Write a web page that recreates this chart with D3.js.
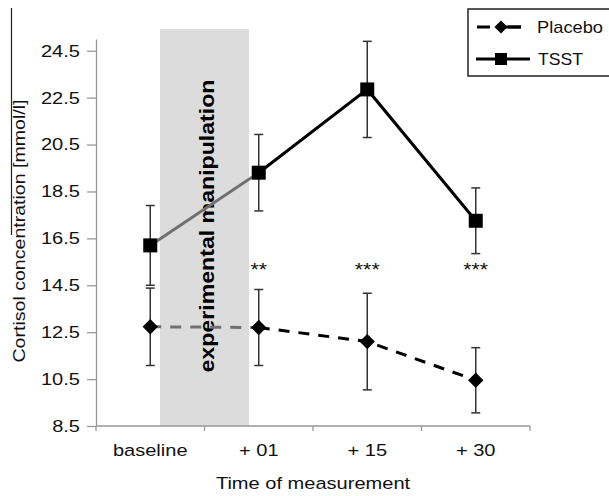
<!DOCTYPE html>
<html>
<head>
<meta charset="utf-8">
<script src="https://cdn.jsdelivr.net/npm/d3@7"></script>
<style>
  body { margin: 0; background: #fff; }
  svg { display: block; font-family: "Liberation Sans", Arial, sans-serif; }
</style>
</head>
<body>
<div class="chart"></div>
<script>
// values
const categories = ['baseline', '+ 01', '+ 15', '+ 30'];
const tsst = [16.2, 19.3, 22.85, 17.25];
const tsstErr = [1.7, 1.63, 2.05, 1.4];
const placebo = [12.73, 12.7, 12.1, 10.45];
const placeboErr = [1.65, 1.62, 2.06, 1.39];
const stars = ['', '**', '***', '***'];
const yTicks = [8.5, 10.5, 12.5, 14.5, 16.5, 18.5, 20.5, 22.5, 24.5];

const outerWidth = 609;
const outerHeight = 496;
const margin = {top: 39, bottom: 70, left: 96, right: 79};
const stretch = 1.18; // the original figure is a bit wide-stretched

const svg = d3.select('.chart')
  .append('svg')
  .attr('width', outerWidth)
  .attr('height', outerHeight);

const xScale = d3.scaleBand()
  .domain(categories)
  .range([margin.left, outerWidth - margin.right])
  .padding(0);

const xc = d => xScale(d) + xScale.bandwidth() / 2;

const yScale = d3.scaleLinear()
  .domain([8.5, 25])
  .range([outerHeight - margin.bottom, margin.top]);

// grey band for the manipulation, between baseline and +01
const bandPad = xScale.bandwidth() * 0.09;
svg.append('rect')
  .attr('x', xc(categories[0]) + bandPad)
  .attr('y', margin.top - 10)
  .attr('width', xc(categories[1]) - xc(categories[0]) - 2 * bandPad)
  .attr('height', yScale(8.5) - margin.top + 10)
  .attr('fill', '#dcdcdc');

// y axis
const yAxis = d3.axisLeft(yScale)
  .tickValues(yTicks)
  .tickFormat(d3.format('.1f'))
  .tickSize(9)
  .tickSizeOuter(0);

const gy = svg.append('g')
  .attr('transform', `translate(${margin.left},0)`)
  .call(yAxis);
gy.select('.domain').attr('stroke', '#999').attr('stroke-width', 1.3);
gy.selectAll('.tick line').attr('stroke', '#999').attr('stroke-width', 1.3);
gy.selectAll('.tick text')
  .attr('font-size', 17)
  .attr('fill', '#111')
  .attr('x', -16 / stretch)
  .attr('transform', `scale(${stretch},1)`);

// x axis with ticks at category borders
const gx = svg.append('g')
  .attr('transform', `translate(0,${yScale(8.5)})`);
gx.append('line')
  .attr('x1', xScale.range()[0])
  .attr('x2', xScale.range()[1])
  .attr('stroke', '#999')
  .attr('stroke-width', 1.3);
const borders = categories.map(c => xScale(c)).concat([xScale.range()[1]]);
gx.selectAll('.xtick')
  .data(borders)
  .enter()
  .append('line')
  .attr('x1', d => d)
  .attr('x2', d => d)
  .attr('y1', 0)
  .attr('y2', 5)
  .attr('stroke', '#999')
  .attr('stroke-width', 1.3);
gx.selectAll('.xlabel')
  .data(categories)
  .enter()
  .append('text')
  .attr('x', d => xc(d) / stretch)
  .attr('y', 30)
  .attr('transform', `scale(${stretch},1)`)
  .attr('text-anchor', 'middle')
  .attr('font-size', 17)
  .attr('fill', '#111')
  .text(d => d);

// axis titles
svg.append('text')
  .attr('x', (xScale.range()[0] + xScale.range()[1]) / 2 / stretch)
  .attr('y', 489)
  .attr('transform', `scale(${stretch},1)`)
  .attr('text-anchor', 'middle')
  .attr('font-size', 17)
  .attr('fill', '#111')
  .text('Time of measurement');

svg.append('text')
  .attr('transform', 'translate(25,231) rotate(-90)')
  .attr('text-anchor', 'middle')
  .attr('font-size', 16)
  .attr('textLength', 263)
  .attr('lengthAdjust', 'spacingAndGlyphs')
  .attr('fill', '#111')
  .text('Cortisol concentration [mmol/l]');

svg.append('line')
  .attr('x1', 11.5).attr('x2', 11.5)
  .attr('y1', 8).attr('y2', 235)
  .attr('stroke', '#222')
  .attr('stroke-width', 1.2);

// label inside the band
svg.append('text')
  .attr('transform', `translate(${(xc(categories[0]) + xc(categories[1])) / 2 + 9.5},226) rotate(-90)`)
  .attr('text-anchor', 'middle')
  .attr('font-size', 21)
  .attr('font-weight', 'bold')
  .attr('textLength', 293)
  .attr('lengthAdjust', 'spacingAndGlyphs')
  .attr('fill', '#000')
  .text('experimental manipulation');

// error bars
function errorBars(vals, errs) {
  const g = svg.append('g').attr('stroke', '#333').attr('stroke-width', 1.5);
  vals.forEach((v, i) => {
    const x = xc(categories[i]);
    g.append('line')
      .attr('x1', x).attr('x2', x)
      .attr('y1', yScale(v + errs[i])).attr('y2', yScale(v - errs[i]));
    [v + errs[i], v - errs[i]].forEach(e => {
      g.append('line')
        .attr('x1', x - 4.5).attr('x2', x + 4.5)
        .attr('y1', yScale(e)).attr('y2', yScale(e));
    });
  });
}
errorBars(placebo, placeboErr);
errorBars(tsst, tsstErr);

// lines: first segment (during manipulation) is grey
function drawLine(vals, dash) {
  const pts = vals.map((v, i) => [xc(categories[i]), yScale(v)]);
  const line = d3.line();
  svg.append('path')
    .datum(pts.slice(0, 2))
    .attr('fill', 'none')
    .attr('stroke', '#707070')
    .attr('stroke-width', 3)
    .attr('stroke-dasharray', dash)
    .attr('d', line);
  svg.append('path')
    .datum(pts.slice(1))
    .attr('fill', 'none')
    .attr('stroke', '#000')
    .attr('stroke-width', 3)
    .attr('stroke-dasharray', dash)
    .attr('d', line);
}
drawLine(placebo, '11,9');
drawLine(tsst, null);

const diamond = d3.symbol().type(d3.symbolDiamond2).size(150);
svg.selectAll('.pmark')
  .data(placebo)
  .enter()
  .append('path')
  .attr('d', diamond)
  .attr('transform', (d, i) => `translate(${xc(categories[i])},${yScale(d)})`)
  .attr('fill', '#000');

svg.selectAll('.tmark')
  .data(tsst)
  .enter()
  .append('rect')
  .attr('x', (d, i) => xc(categories[i]) - 7)
  .attr('y', d => yScale(d) - 7)
  .attr('width', 14)
  .attr('height', 14)
  .attr('fill', '#000');

// significance stars
svg.selectAll('.stars')
  .data(stars)
  .enter()
  .append('text')
  .attr('x', (d, i) => xc(categories[i]) / stretch)
  .attr('y', 276)
  .attr('transform', `scale(${stretch},1)`)
  .attr('text-anchor', 'middle')
  .attr('font-size', 18)
  .attr('fill', '#111')
  .text(d => d);

// legend
const leg = svg.append('g');
leg.append('rect')
  .attr('x', 468).attr('y', 9)
  .attr('width', 150).attr('height', 67)
  .attr('fill', '#fff')
  .attr('stroke', '#222')
  .attr('stroke-width', 1.5);
leg.append('line')
  .attr('x1', 477).attr('x2', 521)
  .attr('y1', 27).attr('y2', 27)
  .attr('stroke', '#000').attr('stroke-width', 3)
  .attr('stroke-dasharray', '13,18');
leg.append('path')
  .attr('d', d3.symbol().type(d3.symbolDiamond2).size(110))
  .attr('transform', 'translate(501,27)')
  .attr('fill', '#000');
leg.append('line')
  .attr('x1', 501).attr('x2', 521)
  .attr('y1', 27).attr('y2', 27)
  .attr('stroke', '#000').attr('stroke-width', 3);
leg.append('text')
  .attr('x', 537).attr('y', 33)
  .attr('font-size', 17)
  .attr('textLength', 66)
  .attr('lengthAdjust', 'spacingAndGlyphs')
  .attr('fill', '#111')
  .text('Placebo');
leg.append('line')
  .attr('x1', 476).attr('x2', 530)
  .attr('y1', 59).attr('y2', 59)
  .attr('stroke', '#000').attr('stroke-width', 3);
leg.append('rect')
  .attr('x', 495).attr('y', 53)
  .attr('width', 12).attr('height', 12)
  .attr('fill', '#000');
leg.append('text')
  .attr('x', 538).attr('y', 65)
  .attr('font-size', 17)
  .attr('textLength', 45)
  .attr('lengthAdjust', 'spacingAndGlyphs')
  .attr('fill', '#111')
  .text('TSST');
</script>
</body>
</html>
